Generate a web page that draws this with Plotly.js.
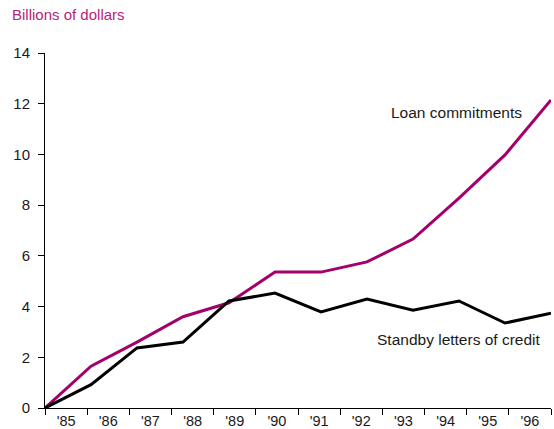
<!DOCTYPE html>
<html>
<head>
<meta charset="utf-8">
<script src="https://cdn.plot.ly/plotly-3.0.1.min.js"></script>
<style>html,body{margin:0;padding:0;background:#fff}#chart{width:554px;height:429px}</style>
</head>
<body>
<div id="chart"></div>
<script>
var years = [1985, 1986, 1987, 1988, 1989, 1990, 1991, 1992, 1993, 1994, 1995, 1996];
var loanCommitments = [0, 1.65, 2.6, 3.6, 4.15, 5.36, 5.36, 5.76, 6.66, 8.28, 9.98, 12.15];
var standbyLetters = [0, 0.92, 2.37, 2.6, 4.22, 4.53, 3.79, 4.3, 3.86, 4.22, 3.35, 3.74];
var tickLabels = ["'85", "'86", "'87", "'88", "'89", "'90", "'91", "'92", "'93", "'94", "'95", "'96"];

var purple = '#a3006b';
var txt = '#1a1a1a';
var fontFam = 'Liberation Sans, Arial, sans-serif';

var markPos = [];
for (var i = 0; i <= tickLabels.length; i++) markPos.push(i);
var labelPos = tickLabels.map(function(_, i){ return i + 0.5; });

var traces = [
  {x: years, y: loanCommitments, type: 'scatter', mode: 'lines', name: 'Loan commitments',
   line: {color: purple, width: 3}, hoverinfo: 'skip'},
  {x: years, y: standbyLetters, type: 'scatter', mode: 'lines', name: 'Standby letters of credit',
   line: {color: '#000', width: 3}, hoverinfo: 'skip'},
  /* empty helper traces so the tick-mark axis and label axis are drawn */
  {x: [], y: [], type: 'scatter', mode: 'lines', xaxis: 'x2', yaxis: 'y', hoverinfo: 'skip', showlegend: false},
  {x: [], y: [], type: 'scatter', mode: 'lines', xaxis: 'x3', yaxis: 'y', hoverinfo: 'skip', showlegend: false}
];

var layout = {
  width: 554, height: 429,
  margin: {l: 45, r: 3, t: 53, b: 21},
  paper_bgcolor: '#fff', plot_bgcolor: '#fff',
  showlegend: false,
  font: {family: fontFam, color: txt, size: 15},
  title: {text: 'Billions of dollars', x: 12/554, xref: 'container', xanchor: 'left',
          y: 1 - 15/429, yref: 'container', yanchor: 'middle',
          font: {family: fontFam, size: 15, color: '#b8237a'}},
  xaxis: {range: [years[0], years[years.length-1]], showticklabels: false, ticks: '',
          showline: true, linecolor: '#000', linewidth: 1, showgrid: false, zeroline: false, fixedrange: true},
  xaxis2: {overlaying: 'x', anchor: 'y', side: 'bottom', range: [0, tickLabels.length], tickmode: 'array',
           tickvals: markPos, ticktext: markPos.map(function(){return '';}), ticks: 'outside',
           ticklen: 6, tickcolor: '#000', tickwidth: 1, showline: false, showgrid: false, zeroline: false},
  xaxis3: {overlaying: 'x', anchor: 'y', side: 'bottom', range: [0, tickLabels.length], tickmode: 'array',
           tickvals: labelPos, ticktext: tickLabels, ticks: 'outside', ticklen: 0, tickcolor: 'rgba(0,0,0,0)',
           showline: false, showgrid: false, zeroline: false, tickfont: {size: 14.5, color: txt}},
  yaxis: {range: [0, 14], dtick: 2, tick0: 0, ticks: 'outside', ticklen: 6, tickcolor: '#000',
          showline: true, linecolor: '#000', linewidth: 1, showgrid: false, zeroline: false,
          tickfont: {size: 15, color: txt}, ticklabelstandoff: 5, fixedrange: true},
  annotations: [
    {x: 1995.41, y: 11.67, xref: 'x', yref: 'y', text: 'Loan commitments', showarrow: false,
     xanchor: 'right', yanchor: 'middle', font: {size: 15.5, color: txt}},
    {x: 1995.83, y: 2.72, xref: 'x', yref: 'y', text: 'Standby letters of credit', showarrow: false,
     xanchor: 'right', yanchor: 'middle', font: {size: 15.5, color: txt}}
  ]
};

Plotly.newPlot('chart', traces, layout, {staticPlot: true, displayModeBar: false});
</script>
</body>
</html>
